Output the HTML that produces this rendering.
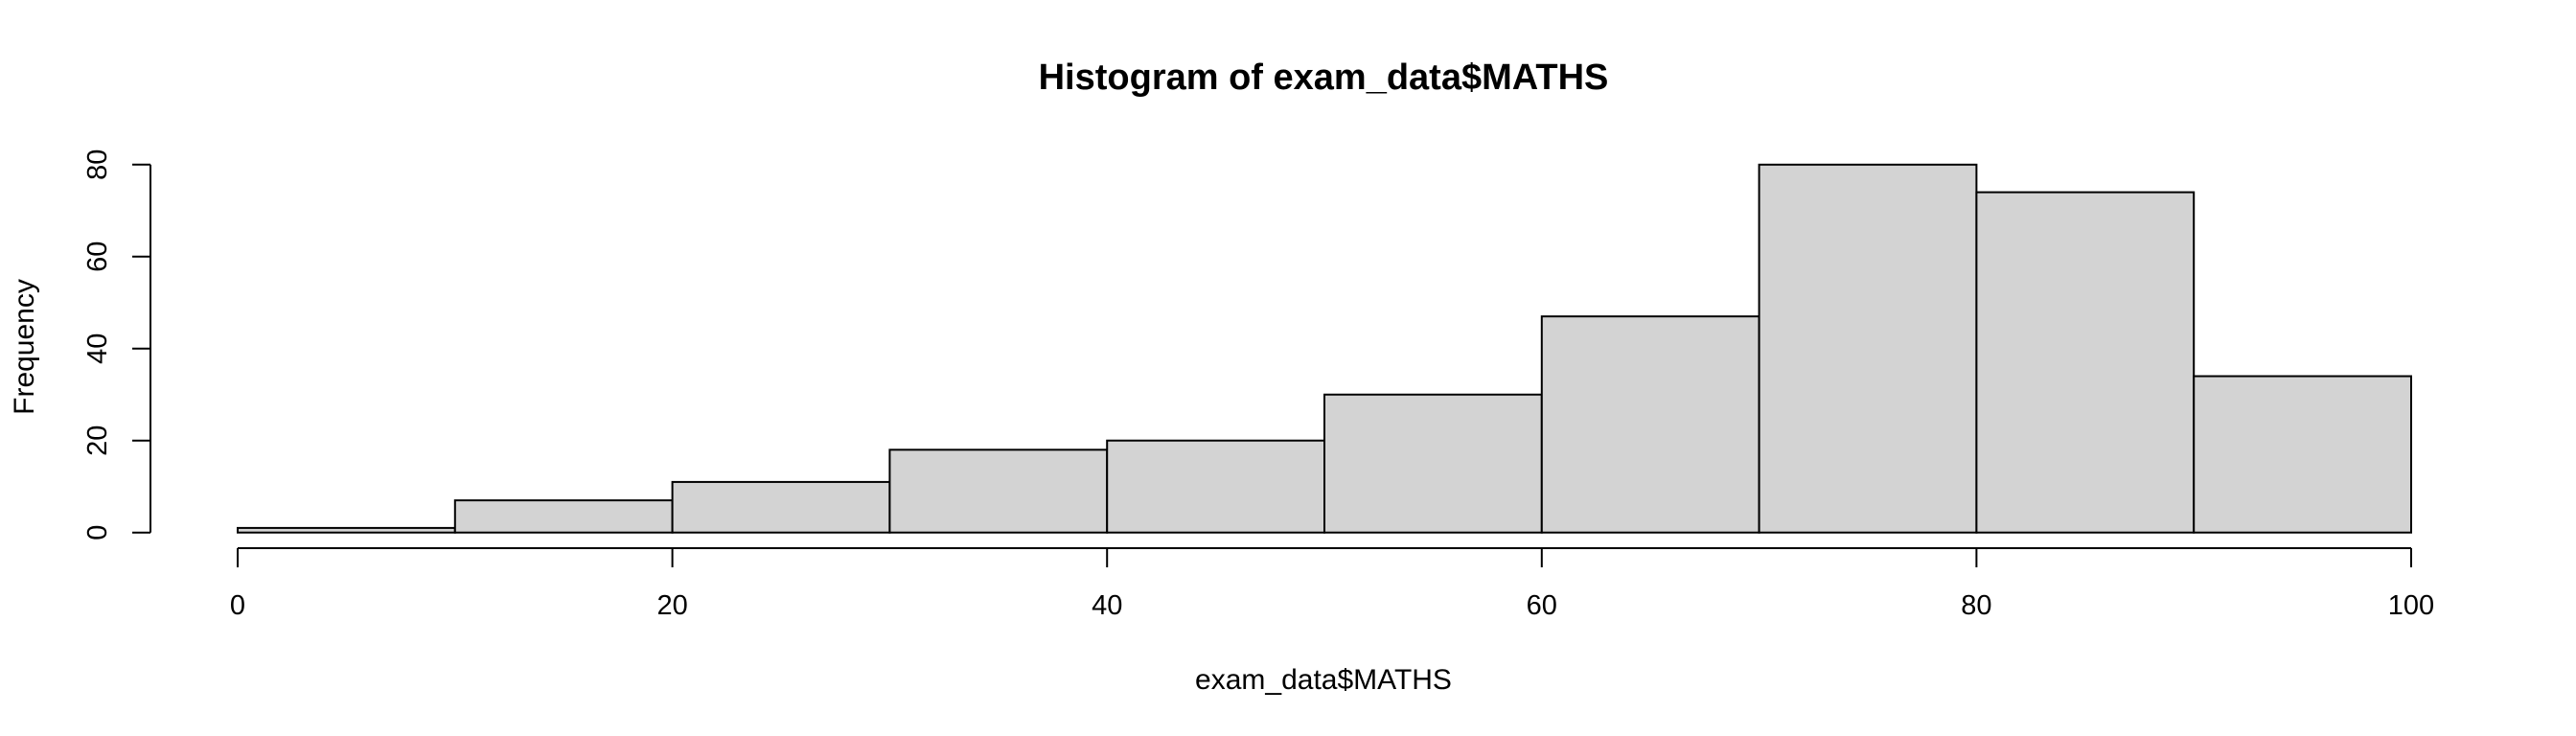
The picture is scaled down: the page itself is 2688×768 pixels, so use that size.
<!DOCTYPE html>
<html>
<head>
<meta charset="utf-8">
<style>
html,body{margin:0;padding:0;background:#fff;}
svg{display:block;font-family:"Liberation Sans",Arial,sans-serif;}
</style>
</head>
<body>
<svg id="chart" width="2688" height="768" viewBox="0 0 2688 768">
  <text x="1381" y="93" text-anchor="middle" font-size="38" font-weight="bold">Histogram of exam_data$MATHS</text>
  <text x="1381" y="719" text-anchor="middle" font-size="30">exam_data$MATHS</text>
  <text x="0" y="0" transform="translate(35,362) rotate(-90)" text-anchor="middle" font-size="30">Frequency</text>
  <g id="bars"></g>
  <g id="xaxis"></g>
  <g id="yaxis"></g>
</svg>
<script>
const binStarts = [0, 10, 20, 30, 40, 50, 60, 70, 80, 90];
const binWidth = 10;
const counts = [1, 7, 11, 18, 20, 30, 47, 80, 74, 34];
const xTicks = [0, 20, 40, 60, 80, 100];
const yTicks = [0, 20, 40, 60, 80];

const NS = "http://www.w3.org/2000/svg";
function xs(v){ return 248 + (v - 0) * (2516 - 248) / 100; }
function ys(v){ return 555.7 - v * (555.7 - 171.8) / 80; }
function mk(tag, attrs, parent){
  const e = document.createElementNS(NS, tag);
  for (const k in attrs) e.setAttribute(k, attrs[k]);
  parent.appendChild(e);
  return e;
}
const bars = document.getElementById('bars');
binStarts.forEach((b, i) => {
  const x0 = xs(b), x1 = xs(b + binWidth), y0 = ys(0), y1 = ys(counts[i]);
  const r = mk('rect', {x: x0, y: y1, width: x1 - x0, height: y0 - y1, fill: '#d3d3d3', stroke: '#000', 'stroke-width': 2}, bars);
  
  
});
const xa = document.getElementById('xaxis');
const xl = mk('line', {x1: xs(xTicks[0]), x2: xs(xTicks[xTicks.length-1]), y1: 572, y2: 572, stroke: '#000', 'stroke-width': 2}, xa);


xTicks.forEach(t => {
  const tk = mk('line', {x1: xs(t), x2: xs(t), y1: 572, y2: 592, stroke: '#000', 'stroke-width': 2}, xa);
  
  
  const lb = mk('text', {x: xs(t), y: 641, 'text-anchor': 'middle', 'font-size': 29}, xa);
  lb.textContent = t;
  
  
});
const ya = document.getElementById('yaxis');
const yl = mk('line', {x1: 157, x2: 157, y1: ys(yTicks[0]), y2: ys(yTicks[yTicks.length-1]), stroke: '#000', 'stroke-width': 2}, ya);


yTicks.forEach(t => {
  const tk = mk('line', {x1: 138, x2: 157, y1: ys(t), y2: ys(t), stroke: '#000', 'stroke-width': 2}, ya);
  
  
  const lb = mk('text', {x: 0, y: 0, transform: 'translate(111,' + ys(t) + ') rotate(-90)', 'text-anchor': 'middle', 'font-size': 29}, ya);
  lb.textContent = t;
  
  
});
</script>
</body>
</html>
